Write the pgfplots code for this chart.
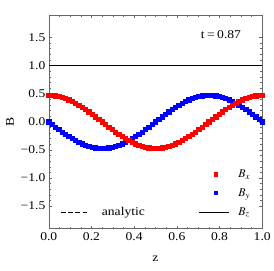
\documentclass[border=0pt]{standalone}
\usepackage{mathptmx}
\usepackage{fontspec}
\setmainfont{Liberation Serif}[FakeStretch=1.15]
\usepackage{pgfplots}
\usepackage{pgfplotstable}
\pgfplotsset{compat=1.18}
\pgfplotstableread{
z bx by
0 0.470 0.000
0.0156 0.468 -0.046
0.0313 0.461 -0.092
0.0469 0.450 -0.136
0.0625 0.434 -0.180
0.0781 0.415 -0.222
0.0938 0.391 -0.261
0.1094 0.363 -0.298
0.125 0.332 -0.332
0.1406 0.298 -0.363
0.1563 0.261 -0.391
0.1719 0.222 -0.415
0.1875 0.180 -0.434
0.2031 0.136 -0.450
0.2188 0.092 -0.461
0.2344 0.046 -0.468
0.25 0.000 -0.470
0.2656 -0.046 -0.468
0.2813 -0.092 -0.461
0.2969 -0.136 -0.450
0.3125 -0.180 -0.434
0.3281 -0.222 -0.415
0.3438 -0.261 -0.391
0.3594 -0.298 -0.363
0.375 -0.332 -0.332
0.3906 -0.363 -0.298
0.4063 -0.391 -0.261
0.4219 -0.415 -0.222
0.4375 -0.434 -0.180
0.4531 -0.450 -0.136
0.4688 -0.461 -0.092
0.4844 -0.468 -0.046
0.5 -0.470 0.000
0.5156 -0.468 0.046
0.5313 -0.461 0.092
0.5469 -0.450 0.136
0.5625 -0.434 0.180
0.5781 -0.415 0.222
0.5938 -0.391 0.261
0.6094 -0.363 0.298
0.625 -0.332 0.332
0.6406 -0.298 0.363
0.6563 -0.261 0.391
0.6719 -0.222 0.415
0.6875 -0.180 0.434
0.7031 -0.136 0.450
0.7188 -0.092 0.461
0.7344 -0.046 0.468
0.75 0.000 0.470
0.7656 0.046 0.468
0.7813 0.092 0.461
0.7969 0.136 0.450
0.8125 0.180 0.434
0.8281 0.222 0.415
0.8438 0.261 0.391
0.8594 0.298 0.363
0.875 0.332 0.332
0.8906 0.363 0.298
0.9063 0.391 0.261
0.9219 0.415 0.222
0.9375 0.434 0.180
0.9531 0.450 0.136
0.9688 0.461 0.092
0.9844 0.468 0.046
1 0.470 0.000
}\fielddata
\begin{document}
\begin{tikzpicture}
\begin{axis}[
  scale only axis, width=216.5pt, height=217pt,
  xmin=0, xmax=1, ymin=-1.9, ymax=1.9,
  xtick={0,0.2,0.4,0.6,0.8,1.0},
  xticklabels={0.0,0.2,0.4,0.6,0.8,1.0},
  ytick={-1.5,-1,-0.5,0,0.5,1,1.5},
  yticklabels={−1.5,−1.0,−0.5,0.0,0.5,1.0,1.5},
  minor x tick num=3, minor y tick num=4,
  tick align=inside,
  major tick length=3pt, minor tick length=1.8pt,
  axis line style={gray!80!black},
  every tick/.style={gray!80!black},
  tick label style={font=\fontsize{12}{14}\selectfont},
  label style={font=\fontsize{12}{14}\selectfont},
  xlabel={z}, ylabel={B},
  xlabel style={yshift=-9pt},
  legend columns=2,
  legend cell align=left,
  legend style={draw=none, fill=none, font=\fontsize{12}{14}\selectfont,
    at={(axis description cs:0.041,0.036)}, anchor=south west,
    row sep=5.5pt,
    /tikz/column 1/.style={column sep=13pt},
    /tikz/column 2/.style={column sep=52pt},
    /tikz/column 3/.style={column sep=7pt}},
  clip=false,
]
\addplot[forget plot, only marks, mark=square*, mark size=2.2pt, blue, mark options={draw=blue, fill=blue}] table[x=z, y=by] {\fielddata};
\addplot[forget plot, only marks, mark=square*, mark size=2.2pt, red, mark options={draw=red, fill=red}] table[x=z, y=bx] {\fielddata};
\addplot[forget plot, black, dashed, line width=0.8pt] table[x=z, y=bx] {\fielddata};
\addplot[forget plot, black, dashed, line width=0.8pt] table[x=z, y=by] {\fielddata};
\addplot[forget plot, black, line width=0.8pt] coordinates {(0,1) (1,1)};
\addlegendimage{empty legend}\addlegendentry{}
\addlegendimage{red, legend image code/.code={\node[fill=red, inner sep=0pt, minimum size=4.5pt] at (15pt,0pt) {};}}\addlegendentry{$B_x$}
\addlegendimage{empty legend}\addlegendentry{}
\addlegendimage{blue, legend image code/.code={\node[fill=blue, inner sep=0pt, minimum size=4.5pt] at (15pt,0pt) {};}}\addlegendentry{$B_y$}
\addlegendimage{legend image code/.code={\draw[black, line width=0.8pt, dash pattern=on 4.5pt off 2.8pt] (0pt,0pt) -- (26pt,0pt);}}\addlegendentry{analytic}
\addlegendimage{legend image code/.code={\draw[black, line width=0.8pt] (0pt,0pt) -- (31pt,0pt);}}\addlegendentry{$B_z$}
\node[anchor=east, font=\fontsize{12}{14}\selectfont] at (axis description cs:0.917,0.908) {t\hspace{2.5pt}=\hspace{2.5pt}0.87};
\end{axis}
\path (current axis.south west) ++(-49.5pt,-42pt);
\path (current axis.north east) ++(8pt,15pt);
\end{tikzpicture}
\end{document}
